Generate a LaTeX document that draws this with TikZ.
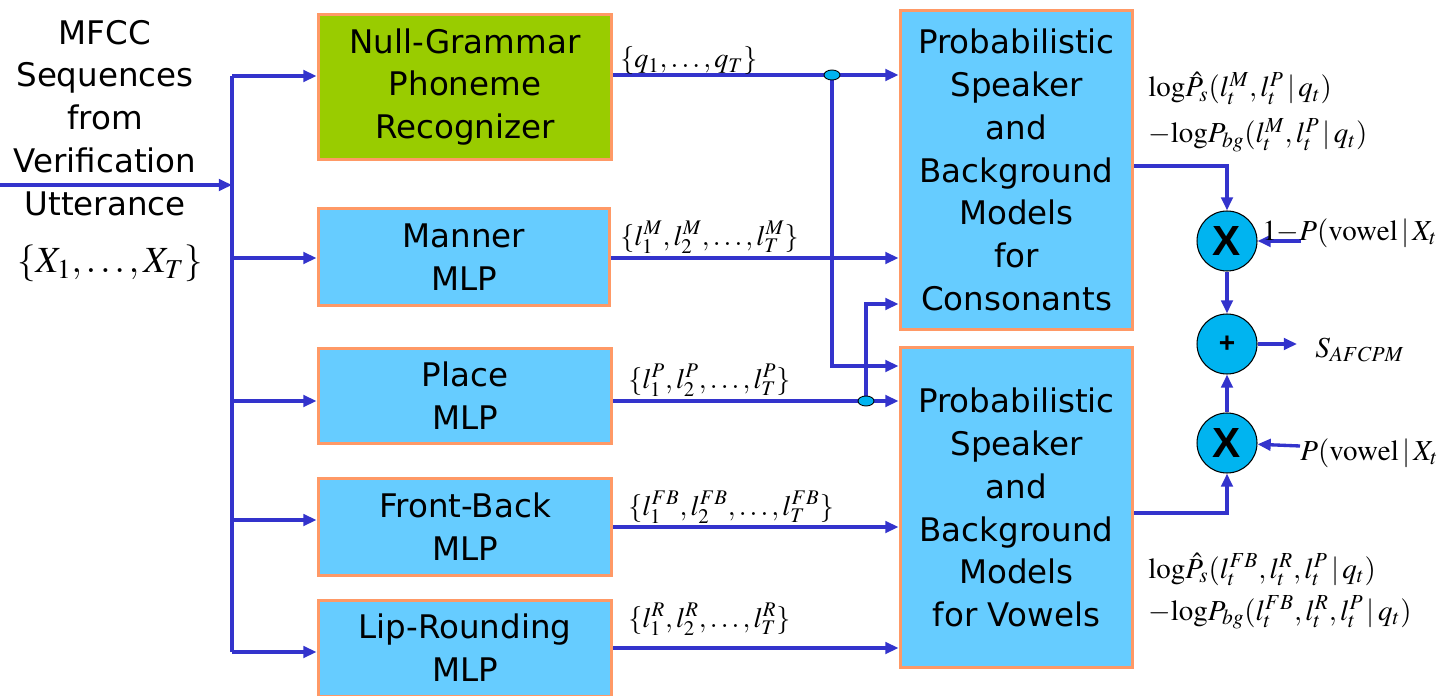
\documentclass[tikz,border=0pt]{standalone}
\usepackage{mathptmx}
\usepackage[no-math]{fontspec}
\setmainfont{DejaVu Sans}
\newfontfamily\arialf{Liberation Sans}
\usetikzlibrary{arrows.meta,shapes.geometric}
\definecolor{lineblue}{HTML}{3333CC}
\definecolor{boxblue}{HTML}{66CCFF}
\definecolor{boxgreen}{HTML}{99CC00}
\definecolor{boxedge}{HTML}{FF9966}
\definecolor{dotblue}{HTML}{00B4F0}
\begin{document}
\begin{tikzpicture}[x=0.02cm,y=-0.02cm,
  box/.style={draw=boxedge,line width=1.7pt,fill=boxblue,inner sep=0pt,align=center,
    font=\fontsize{18.5}{24.4}\selectfont},
  plain/.style={inner sep=0pt,align=center,font=\fontsize{18.5}{24.4}\selectfont},
  conn/.style={draw=lineblue,line width=1.9pt},
  arr/.style={conn,-{Triangle[length=7.5pt,width=6.5pt]}},
  lab/.style={inner sep=0pt,font=\fontsize{16}{18}\selectfont},
  rlab/.style={inner sep=0pt,font=\fontsize{16.5}{19}\selectfont},
  op/.style={circle,draw=black,line width=0.6pt,fill=dotblue,minimum size=1.2cm,inner sep=0pt},
  junc/.style={ellipse,draw=black,line width=0.5pt,fill=dotblue,minimum width=0.32cm,minimum height=0.2cm,inner sep=0pt}
]
\clip (0,0) rectangle (1438,696);
\useasboundingbox (0,0) rectangle (1438,696);

% left input text
\node[plain] (intext) at (105,118) {MFCC\\Sequences\\from\\Verification\\Utterance};
\node[inner sep=0pt,font=\fontsize{21}{23}\selectfont,anchor=base] (xseq) at (110,273) {$\{X_1,\ldots,X_T\}$};

% boxes
\node[box,fill=boxgreen,minimum width=5.88cm,minimum height=2.92cm] (null) at (465,87) {Null-Grammar\\Phoneme\\Recognizer};
\node[box,minimum width=5.84cm,minimum height=1.96cm] (manner) at (464,257) {Manner\\MLP};
\node[box,minimum width=5.88cm,minimum height=1.92cm] (place) at (465,396) {Place\\MLP};
\node[box,minimum width=5.88cm,minimum height=1.96cm] (fb) at (465,527) {Front-Back\\MLP};
\node[box,minimum width=5.88cm,minimum height=1.92cm] (lip) at (465,648) {Lip-Rounding\\MLP};
\node[box,minimum width=4.66cm,minimum height=6.4cm] (cons) at (1016.5,170) {Probabilistic\\Speaker\\and\\Background\\Models\\for\\Consonants};
\node[box,minimum width=4.66cm,minimum height=6.42cm] (vow) at (1016.5,507.5) {Probabilistic\\Speaker\\and\\Background\\Models\\for Vowels};

% coordinates
\coordinate (in) at (0,185);
\coordinate (tt) at (232,76);
\coordinate (tb) at (232,652);
\coordinate (b2) at (232,258);
\coordinate (b3) at (232,401);
\coordinate (b4) at (232,520);
\coordinate (yq) at (0,75);
\coordinate (ym) at (0,258);
\coordinate (yp) at (0,401);
\coordinate (yfb) at (0,527);
\coordinate (ylr) at (0,648);
\coordinate (yv1) at (0,366);
\coordinate (yc2) at (0,304);
\coordinate (j1) at (832,75);
\coordinate (j2) at (866,401);
\coordinate (yco) at (0,166);
\coordinate (yvo) at (0,513);

% input trunk
\draw[arr] (in) -- (in -| tt);
\draw[conn] (tt) -- (tb);
\draw[arr] (tt) -- (tt -| null.west);
\draw[arr] (b2) -- (b2 -| manner.west);
\draw[arr] (b3) -- (b3 -| place.west);
\draw[arr] (b4) -- (b4 -| fb.west);
\draw[arr] (tb) -- (tb -| lip.west);

% outputs of recognizers
\draw[arr] (null.east |- yq) -- (cons.west |- yq);
\draw[arr] (j1) -- (j1 |- yv1) -- (vow.west |- yv1);
\draw[arr] (manner.east |- ym) -- (cons.west |- ym);
\draw[arr] (place.east |- yp) -- (vow.west |- yp);
\draw[arr] (j2) -- (j2 |- yc2) -- (cons.west |- yc2);
\draw[arr] (fb.east |- yfb) -- (vow.west |- yfb);
\draw[arr] (lip.east |- ylr) -- (vow.west |- ylr);
\node[junc] (jn1) at (j1) {};
\node[junc] (jn2) at (j2) {};

% labels on lines
\node[lab,anchor=base west] (lq) at (620,68) {$\{q_1,\ldots,q_T\}$};
\node[lab,anchor=base west] (lm) at (620,245) {$\{l_1^M,l_2^M,\ldots,l_T^M\}$};
\node[lab,anchor=base west] (lp) at (628,388) {$\{l_1^P,l_2^P,\ldots,l_T^P\}$};
\node[lab,anchor=base west] (lfb) at (628,515) {$\{l_1^{FB},l_2^{FB},\ldots,l_T^{FB}\}$};
\node[lab,anchor=base west] (llr) at (628,627) {$\{l_1^R,l_2^R,\ldots,l_T^R\}$};

% combination
\node[op,font=\fontsize{24}{24}\arialf\bfseries] (m1) at (1227,241) {X};
\node[op,font=\fontsize{16}{16}\arialf\bfseries] (pl) at (1227,344) {+};
\node[op,font=\fontsize{24}{24}\arialf\bfseries] (m2) at (1227,443) {X};
\coordinate (in1) at (1301,241);
\coordinate (in2) at (1300,446);
\coordinate (out) at (1297,344);
\draw[arr] (cons.east |- yco) -| (m1.north);
\draw[arr] (vow.east |- yvo) -| (m2.south);
\draw[arr] (m1) -- (pl);
\draw[arr] (m2) -- (pl);
\draw[arr] (in1) -- (m1);
\draw[arr] (in2) -- (m2);
\draw[arr] (pl) -- (out);

\node[rlab,anchor=base west] (l1p) at (1262,240) {$1{-}P(\mathrm{vowel}\,|\,X_t)$};
\node[rlab,anchor=base west] (lpv) at (1300,460) {$P(\mathrm{vowel}\,|\,X_t)$};
\node[rlab,anchor=base west] (ls) at (1315,357) {$S_{AFCPM}$};
\node[rlab,anchor=base west] (lc1) at (1148,97) {$\mathrm{log}\hat{P}_s(l_t^M,l_t^P\,|\,q_t)$};
\node[rlab,anchor=base west] (lc2) at (1148,143) {${-}\mathrm{log}P_{bg}(l_t^M,l_t^P\,|\,q_t)$};
\node[rlab,anchor=base west] (lv1) at (1148,578) {$\mathrm{log}\hat{P}_s(l_t^{FB},l_t^R,l_t^P\,|\,q_t)$};
\node[rlab,anchor=base west] (lv2) at (1148,620) {${-}\mathrm{log}P_{bg}(l_t^{FB},l_t^R,l_t^P\,|\,q_t)$};
\end{tikzpicture}
\end{document}
